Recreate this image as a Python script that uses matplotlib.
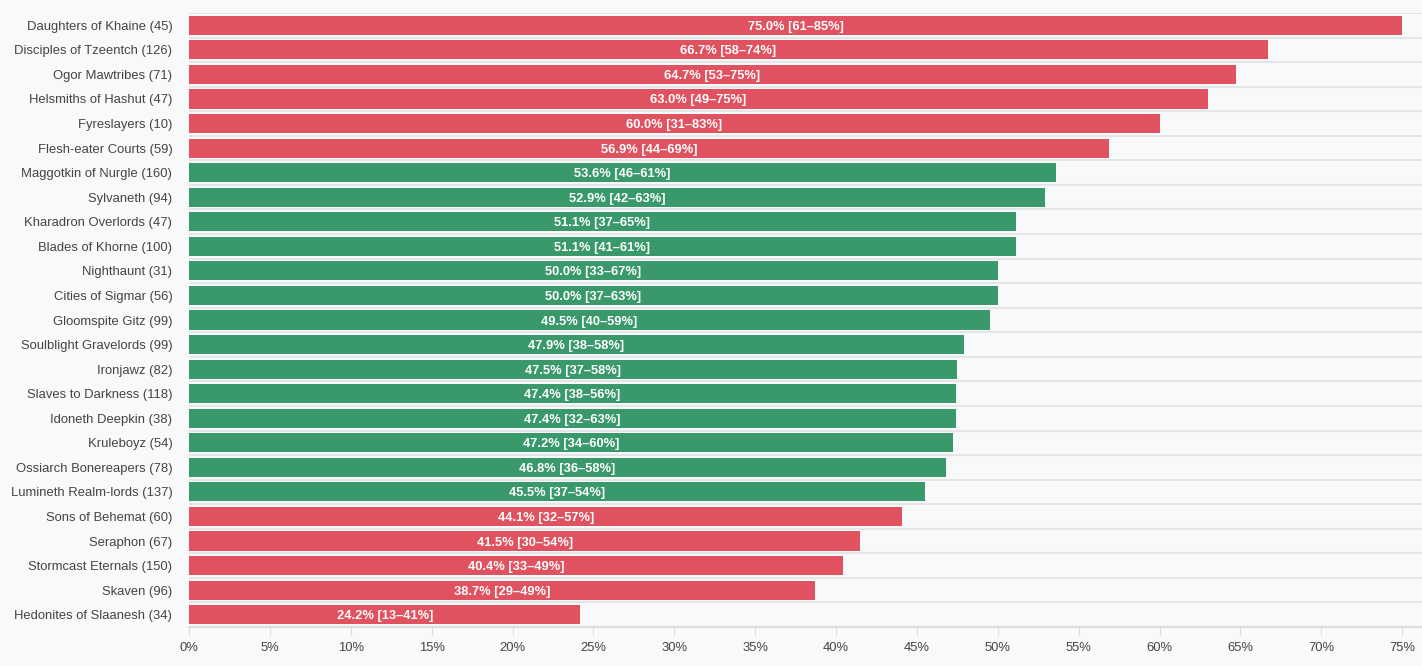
import matplotlib
matplotlib.use("Agg")
import matplotlib.pyplot as plt
import numpy as np

factions = ["Daughters of Khaine", "Disciples of Tzeentch", "Ogor Mawtribes", "Helsmiths of Hashut",
            "Fyreslayers", "Flesh-eater Courts", "Maggotkin of Nurgle", "Sylvaneth",
            "Kharadron Overlords", "Blades of Khorne", "Nighthaunt", "Cities of Sigmar",
            "Gloomspite Gitz", "Soulblight Gravelords", "Ironjawz", "Slaves to Darkness",
            "Idoneth Deepkin", "Kruleboyz", "Ossiarch Bonereapers", "Lumineth Realm-lords",
            "Sons of Behemat", "Seraphon", "Stormcast Eternals", "Skaven", "Hedonites of Slaanesh"]
games = [45, 126, 71, 47, 10, 59, 160, 94, 47, 100, 31, 56, 99, 99, 82, 118, 38, 54, 78, 137,
         60, 67, 150, 96, 34]
winrate = [75.0, 66.7, 64.7, 63.0, 60.0, 56.9, 53.6, 52.9, 51.1, 51.1, 50.0, 50.0, 49.5, 47.9,
           47.5, 47.4, 47.4, 47.2, 46.8, 45.5, 44.1, 41.5, 40.4, 38.7, 24.2]
ci_low = [61, 58, 53, 49, 31, 44, 46, 42, 37, 41, 33, 37, 40, 38, 37, 38, 32, 34, 36, 37,
          32, 30, 33, 29, 13]
ci_high = [85, 74, 75, 75, 83, 69, 61, 63, 65, 61, 67, 63, 59, 58, 58, 56, 63, 60, 58, 54,
           57, 54, 49, 49, 41]

RED = "#e05260"
GREEN = "#3a996b"

plt.rcParams['font.family'] = ['Liberation Sans', 'DejaVu Sans']

fig = plt.figure(figsize=(14.22, 6.66), dpi=100, facecolor="#f8f9fa")
ax = fig.add_axes([189 / 1422, 1 - 627 / 666, 1 - 189 / 1422, (627 - 13) / 666])
ax.set_facecolor("#f8f9fa")

n = len(factions)
y = np.arange(n)
colors = [GREEN if 45 <= v <= 55 else RED for v in winrate]
ax.barh(y, winrate, height=0.78, color=colors, zorder=3)

for yi, v, lo, hi in zip(y, winrate, ci_low, ci_high):
    ax.text(v / 2, yi, "%.1f%% [%d\u2013%d%%]" % (v, lo, hi), ha="center", va="center_baseline",
            color="white", fontsize=9.3, fontweight="bold", zorder=4)

ax.set_xlim(0, 76.22)
ax.set_ylim(n - 0.5, -0.5)
ax.set_yticks(y)
ax.set_yticklabels(["%s (%d)" % (f, g) for f, g in zip(factions, games)])
ax.set_yticks(np.arange(-0.5, n, 1), minor=True)
ax.set_xticks(np.arange(0, 76, 5))
ax.set_xticklabels(["%d%%" % t for t in np.arange(0, 76, 5)])

ax.grid(which="minor", axis="y", color="#e4e5e7", linewidth=1.5, zorder=1)
ax.tick_params(axis="y", which="both", length=0, labelsize=9.4, labelcolor="#444444", pad=12)
ax.tick_params(axis="x", length=6, color="#dddddd", labelsize=9.4, labelcolor="#444444", pad=5)
for s in ["top", "right", "left"]:
    ax.spines[s].set_visible(False)
ax.spines["bottom"].set_color("#dddddd")
ax.spines["bottom"].set_linewidth(1.5)

fig.savefig("out.png", dpi=100, facecolor=fig.get_facecolor())
